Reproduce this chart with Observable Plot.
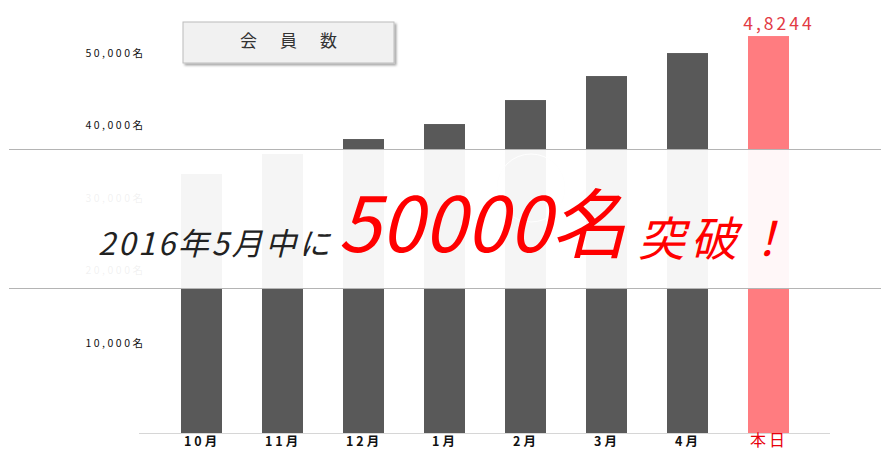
<!DOCTYPE html>
<html>
<head>
<meta charset="utf-8">
<script src="https://cdn.jsdelivr.net/npm/d3@7"></script>
<script src="https://cdn.jsdelivr.net/npm/@observablehq/plot@0.6"></script>
<style>
  html, body { margin: 0; padding: 0; background: #fff; }
  #wrap { position: relative; width: 881px; height: 451px; overflow: hidden; font-family: "Noto Sans CJK JP", "Noto Sans", sans-serif; }
  #wrap > svg { position: absolute; left: 0; top: 0; }
</style>
</head>
<body>
<div id="wrap"></div>
<script>
// ---- data ----
const months = ["10月", "11月", "12月", "1月", "2月", "3月", "4月", "本日"];
const members = [31474, 33905, 35727, 37550, 40466, 43383, 46178, 48244];
const yTicks = [10000, 20000, 30000, 40000, 50000];
const todayLabel = "4,8244";
const boxTitle = "会 員 数";
const headline = ["2016年5月中に", "50000名", "突破！"];

const data = months.map((m, i) => ({ month: m, value: members[i], today: m === "本日" }));
const FONT = "'Noto Sans CJK JP', 'Noto Sans', sans-serif";
const wrap = document.getElementById("wrap");

// ---- bar chart ----
const bars = Plot.plot({
  width: 881,
  height: 451,
  marginLeft: 139,
  marginRight: 51,
  marginTop: 21.6,
  marginBottom: 18,
  style: { fontFamily: FONT, letterSpacing: "3px", background: "transparent", overflow: "visible" },
  x: { domain: months, padding: 0.497, axis: null },
  y: { domain: [0, 50000], axis: null },
  marks: [
    Plot.ruleY([0], { stroke: "#d6d6d6" }),
    Plot.barY(data, {
      x: "month", y: "value",
      fill: d => d.today ? "#ff7c80" : "#595959"
    }),
    Plot.text(data.filter(d => !d.today), {
      x: "month", frameAnchor: "bottom", text: "month",
      lineAnchor: "top", dy: 4,
      fill: "#111", fontSize: 12.5, fontWeight: "bold"
    }),
    Plot.text(data.filter(d => d.today), {
      x: "month", frameAnchor: "bottom", text: "month",
      lineAnchor: "top", dy: 1.5,
      fill: "#e8000b", fontSize: 16
    }),
    Plot.text(data.filter(d => d.today), {
      x: "month", y: "value", text: () => todayLabel,
      lineAnchor: "bottom", dy: -7, dx: 10,
      fill: "#e23a44", fontSize: 17.5
    })
  ]
});
wrap.appendChild(bars);

// ---- y axis labels (separately placed in the original) ----
const axis = Plot.plot({
  width: 881,
  height: 451,
  marginLeft: 146,
  marginTop: 53,
  marginBottom: 35.5,
  style: { fontFamily: FONT, letterSpacing: "2.5px", background: "transparent" },
  y: { domain: [0, 50000] },
  marks: [
    Plot.axisY(yTicks, {
      tickSize: 0, tickPadding: 1, label: null,
      tickFormat: d => d3.format(",")(d) + "名",
      fontSize: 10.5, fill: "#111"
    })
  ]
});
wrap.appendChild(axis);

// ---- overlay: title box, white band, headline ----
const ov = d3.select(wrap).append("svg")
  .attr("width", 881).attr("height", 451)
  .style("font-family", FONT);

const defs = ov.append("defs");
const f = defs.append("filter").attr("id", "sh").attr("x", "-10%").attr("y", "-20%").attr("width", "130%").attr("height", "160%");
f.append("feDropShadow").attr("dx", 2).attr("dy", 2).attr("stdDeviation", 1.2).attr("flood-color", "#000").attr("flood-opacity", 0.35);

ov.append("rect").attr("x", 183).attr("y", 22).attr("width", 211).attr("height", 41)
  .attr("fill", "#f1f1f1").attr("stroke", "#bcbcbc").attr("stroke-width", 1).attr("filter", "url(#sh)");
ov.append("text").attr("x", 240).attr("y", 47).attr("font-size", 17)
  .attr("fill", "#333").attr("textLength", 97).attr("lengthAdjust", "spacing")
  .text(boxTitle);

ov.append("circle").attr("cx", 531).attr("cy", 188).attr("r", 34)
  .attr("fill", "none").attr("stroke", "#e6e6e6");

ov.append("rect").attr("x", 9).attr("y", 149).attr("width", 872).attr("height", 140)
  .attr("fill", "#fff").attr("fill-opacity", 0.94);
ov.append("line").attr("x1", 9).attr("x2", 881).attr("y1", 149.5).attr("y2", 149.5).attr("stroke", "#b4b4b4");
ov.append("line").attr("x1", 9).attr("x2", 881).attr("y1", 288.5).attr("y2", 288.5).attr("stroke", "#b4b4b4");

ov.append("text").attr("x", 98).attr("y", 255).attr("font-size", 31).attr("font-style", "italic")
  .attr("fill", "#222").attr("textLength", 232).attr("lengthAdjust", "spacing").text(headline[0]);
ov.append("text").attr("x", 338).attr("y", 252).attr("font-size", 76).attr("font-style", "italic")
  .attr("fill", "#ff0000").attr("textLength", 289).attr("lengthAdjust", "spacing").text(headline[1]);
ov.append("text").attr("x", 638).attr("y", 256).attr("font-size", 47).attr("font-style", "italic")
  .attr("fill", "#ff0000").attr("textLength", 152).attr("lengthAdjust", "spacing").text(headline[2]);
</script>
</body>
</html>
